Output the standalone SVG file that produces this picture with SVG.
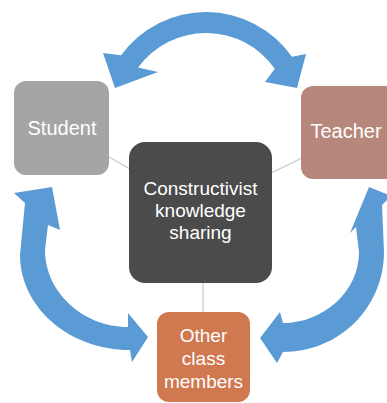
<svg xmlns="http://www.w3.org/2000/svg" width="387" height="403" viewBox="0 0 387 403">
  <style>
    .arrow { fill: #5b9bd5; stroke: none; }
    .conn { stroke: #c8c8c8; stroke-width: 1.2; fill: none; }
    .lbl { font-family: "Liberation Sans", Arial, sans-serif; fill: #ffffff; text-anchor: middle; }
  </style>
  <rect width="387" height="403" fill="#ffffff"/>
  <g id="connectors">
    <line class="conn" x1="109" y1="157" x2="130" y2="169"/>
    <line class="conn" x1="271" y1="173" x2="302" y2="158"/>
    <line class="conn" x1="203" y1="283" x2="203" y2="313"/>
    <path id="arrow-top" class="arrow" d="M103,53 L121.1,55.3 A105,105 0 0 1 292,56.8 L306,54 L297,88 L265,82 L274.8,68.8 A84,84 0 0 0 138,67.6 L158,72 L115,88 Z"/>
    <path id="arrow-left" class="arrow" d="M14,193 L52,187 L60,230 L48,225 L45,250 C45,292 83,327 128,327 L128,313 L148,337 L132,362 L130,350 C69,350 20,307 20,255 L25,203 Z"/>
    <path id="arrow-right" class="arrow" d="M391,196 L369,187 L350,233 L356,227 L359,252 C359,292 323,323 283,323 L280,312 L260,338 L277,363 L283,352 C340,352 384,307 384,252 L382,205 Z"/>
  </g>
  <g id="student">
    <rect x="14" y="81" width="95" height="94" rx="12" fill="#a5a5a5"/>
    <text class="lbl" x="62" y="135" font-size="20">Student</text>
  </g>
  <g id="teacher">
    <rect x="301" y="86" width="96" height="93" rx="12" fill="#b8877b"/>
    <text class="lbl" x="346" y="138" font-size="20">Teacher</text>
  </g>
  <g id="center">
    <rect x="129" y="142" width="143" height="141" rx="16" fill="#4b4b4b"/>
    <text class="lbl" x="200.5" y="195" font-size="19">Constructivist</text>
    <text class="lbl" x="200.5" y="217" font-size="19">knowledge</text>
    <text class="lbl" x="200.5" y="239" font-size="19">sharing</text>
  </g>
  <g id="other">
    <rect x="157" y="312" width="93" height="90" rx="12" fill="#d0784f"/>
    <text class="lbl" x="203.5" y="342" font-size="19">Other</text>
    <text class="lbl" x="203.5" y="365" font-size="19">class</text>
    <text class="lbl" x="203.5" y="388" font-size="19">members</text>
  </g>
</svg>
